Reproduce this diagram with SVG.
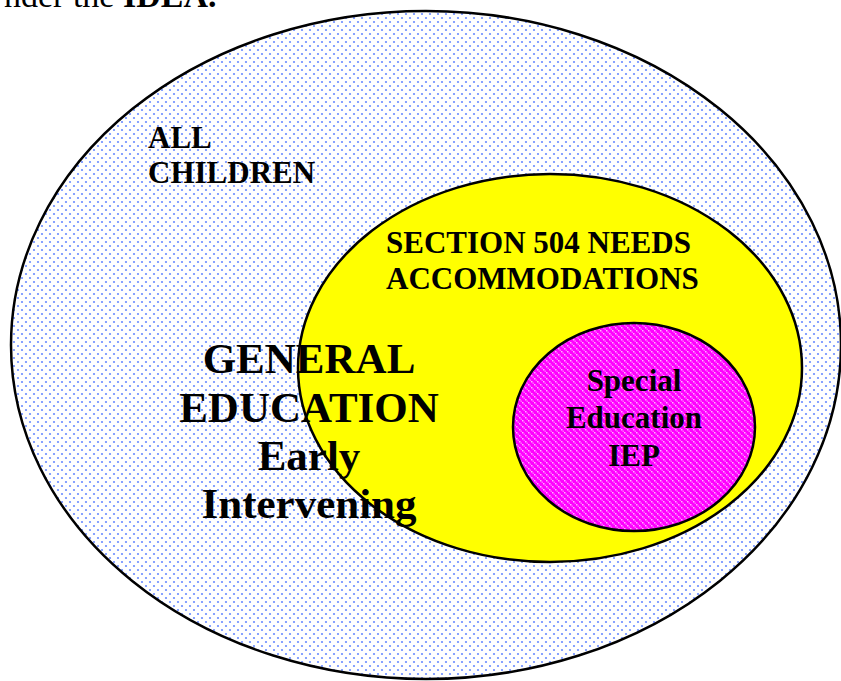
<svg xmlns="http://www.w3.org/2000/svg" width="841" height="681" viewBox="0 0 841 681">
  <defs>
    <!-- light blue dot screen for the outer set -->
    <pattern id="dots" width="8" height="8" patternUnits="userSpaceOnUse">
      <rect width="8" height="8" fill="#ffffff"/>
      <circle cx="2" cy="2" r="1.1" fill="#6a8cff"/>
      <circle cx="6" cy="6" r="1.1" fill="#6a8cff"/>
    </pattern>
    <!-- magenta lattice for the inner set -->
    <pattern id="lattice" width="6" height="6" patternUnits="userSpaceOnUse">
      <rect width="6" height="6" fill="#ff00ff"/>
      <rect x="0" y="0" width="1.5" height="1.5" fill="#ffb3ff"/>
      <rect x="3" y="3" width="1.5" height="1.5" fill="#ffb3ff"/>
      <rect x="1.5" y="1.5" width="1.5" height="1.5" fill="#ff66ff"/>
      <rect x="4.5" y="4.5" width="1.5" height="1.5" fill="#ff66ff"/>
    </pattern>
    <style>
      .set { stroke: #000; stroke-width: 2.5; }
      .lbl { font-family: "Liberation Serif", "Times New Roman", serif; font-weight: bold; fill: #000; }
      .big { font-size: 43px; text-anchor: middle; }
      .mid { font-size: 31px; }
      .small { font-size: 31px; text-anchor: middle; }
    </style>
  </defs>

  <rect width="841" height="681" fill="#ffffff"/>

  <!-- running text cut at the top edge -->
  <text x="4" y="7" font-family="Liberation Serif, Times New Roman, serif" font-size="34" fill="#000">nder the <tspan font-weight="bold">IDEA.</tspan></text>

  <g id="all-children">
    <ellipse class="set" cx="426" cy="345" rx="415" ry="334" fill="url(#dots)"/>
    <text class="lbl mid" x="148" y="148">ALL</text>
    <text class="lbl mid" x="148" y="183">CHILDREN</text>
  </g>

  <g id="section-504">
    <ellipse class="set" cx="550" cy="368" rx="252" ry="194" fill="#ffff00"/>
    <text class="lbl mid" x="386" y="253">SECTION 504 NEEDS</text>
    <text class="lbl mid" x="386" y="289">ACCOMMODATIONS</text>
  </g>

  <g id="special-education">
    <ellipse class="set" cx="634" cy="427" rx="121" ry="104" fill="url(#lattice)"/>
    <text class="lbl small" x="634" y="391">Special</text>
    <text class="lbl small" x="634" y="428">Education</text>
    <text class="lbl small" x="634" y="466">IEP</text>
  </g>

  <g id="general-education">
    <text class="lbl big" x="309" y="373">GENERAL</text>
    <text class="lbl big" x="309" y="422">EDUCATION</text>
    <text class="lbl big" x="309" y="470">Early</text>
    <text class="lbl big" x="309" y="518">Intervening</text>
  </g>
</svg>
